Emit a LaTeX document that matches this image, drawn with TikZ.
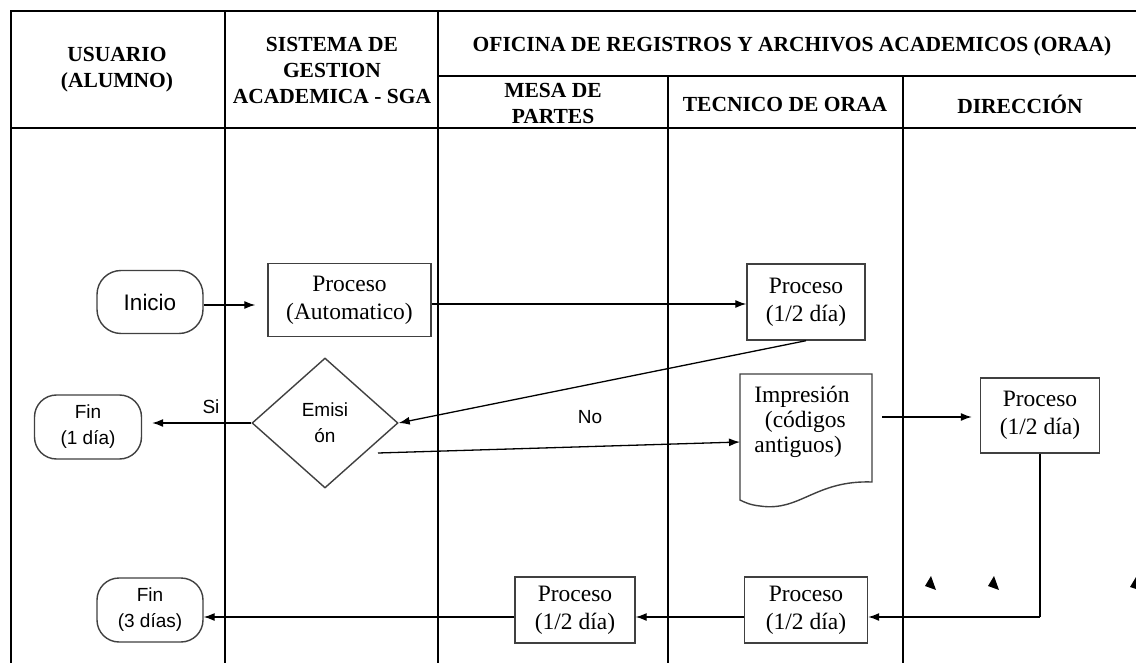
\documentclass[tikz,border=0pt]{standalone}
\usepackage{fontspec}
\setmainfont{Liberation Serif}
\newfontfamily\arialf{Liberation Sans}
\usetikzlibrary{shapes.geometric,arrows.meta,calc}
\begin{document}
\begin{tikzpicture}[x=1pt,y=-1pt,
  grid/.style={line width=2.6pt,black},
  hdr/.style={font=\fontsize{21.5}{26}\selectfont\bfseries,align=center,inner sep=0pt},
  procbox/.style={draw=black!75,line width=1.4pt,align=center,font=\fontsize{23.5}{28}\selectfont,inner sep=0pt},
  term/.style={draw=black!75,line width=1.4pt,rounded corners=24pt,align=center,inner sep=0pt},
  arr/.style={line width=1.3pt,-{Latex[length=11pt,width=8pt]}},
  plain/.style={line width=1.3pt},
  sans/.style={font=\arialf\fontsize{19}{26}\selectfont}
]
\useasboundingbox (0,0) rectangle (1136,663);
\fill[white] (0,0) rectangle (1136,663);
% table
\draw[grid] (1136,11) -- (11,11) -- (11,663);
\draw[grid] (11,128) -- (1136,128);
\draw[grid] (438,76) -- (1136,76);
\draw[grid] (225,11) -- (225,663);
\draw[grid] (438,11) -- (438,663);
\draw[grid] (668,76) -- (668,663);
\draw[grid] (903,76) -- (903,663);
% headers
\node[hdr] (h1) at (117,70) {USUARIO\\(ALUMNO)};
\node[hdr] (h2) at (332,70) {SISTEMA DE\\GESTION\\ACADEMICA - SGA};
\node[hdr,font=\fontsize{21.5}{26}\selectfont\bfseries] (h3) at (792,46) {OFICINA DE REGISTROS Y ARCHIVOS ACADEMICOS (ORAA)};
\node[hdr] (h4) at (553,103) {MESA DE\\PARTES};
\node[hdr] (h5) at (785,104) {TECNICO DE ORAA};
\node[hdr] (h6) at (1020,104) {DIRECCIÓN};
% nodes
\node[term,minimum width=106pt,minimum height=63pt,font=\arialf\fontsize{22.5}{26}\selectfont] (ini) at (150,302) {Inicio};
\node[procbox,minimum width=163pt,minimum height=73pt] (auto) at (349.5,300) {Proceso\\(Automatico)};
\node[procbox,minimum width=118pt,minimum height=76pt] (tec1) at (806,302) {Proceso\\(1/2 día)};
\node[draw=black!75,line width=1.4pt,diamond,aspect=1.12,minimum width=146pt,minimum height=130pt,inner sep=0pt,align=center,sans] (emis) at (325,423) {Emisi\\ón};
\node[term,minimum width=107pt,minimum height=64pt,rounded corners=22pt,sans] (fin1) at (88,427) {Fin\\(1 día)};
% document shape
\draw[draw=black!75,line width=1.4pt] (740,374) -- (872,374) -- (872,482)
   .. controls (815,480) and (800,512) .. (760,506) .. controls (750,505) and (744,502) .. (740,500) -- cycle;
\node[align=left,inner sep=0pt,font=\fontsize{23.5}{25}\selectfont] (imp) at (802,422) {Impresión\\\hspace{0.45em}(códigos\\antiguos)};
\coordinate (impW) at (740,442);
\coordinate (impE) at (882,417);
\node[procbox,minimum width=119pt,minimum height=75pt] (dir) at (1040,415.5) {Proceso\\(1/2 día)};
% bottom row
\node[term,minimum width=106pt,minimum height=64pt,rounded corners=22pt,sans] (fin3) at (150,610) {Fin\\(3 días)};
\node[procbox,minimum width=120pt,minimum height=66pt] (mesa) at (575,610) {Proceso\\(1/2 día)};
\node[procbox,minimum width=123pt,minimum height=66pt] (tec2) at (806,610) {Proceso\\(1/2 día)};
% connectors
\draw[arr,shorten >=12pt] (ini.east |- 0,305) -- (auto.west |- 0,305);
\draw[arr] (auto.east |- 0,304) -- (tec1.west |- 0,304);
\draw[arr] (tec1.south) -- (emis.east);
\draw[arr,shorten >=10pt] (emis.west) -- (emis.west -| fin1.east);
\node[sans] (si) at (211,407) {Si};
\coordinate (noS) at (378,453);
\draw[arr] (noS) -- (impW);
\node[sans] (no) at (590,417) {No};
\draw[arr,shorten >=8pt] (impE) -- (impE -| dir.west);
\coordinate (turn) at (1040,617);
\draw[plain] (dir.south) -- (turn);
\draw[arr] (turn) -- (turn -| tec2.east);
\draw[arr] (tec2.west |- turn) -- (mesa.east |- turn);
\draw[arr] (mesa.west |- turn) -- (fin3.east |- turn);
% stray arrowheads
\fill (931,576) -- (925,586) -- (936,590) -- cycle;
\fill (994,576) -- (988,586) -- (999,590) -- cycle;
\fill (1136,577) -- (1130,587) -- (1136,589) -- cycle;
\end{tikzpicture}
\end{document}
